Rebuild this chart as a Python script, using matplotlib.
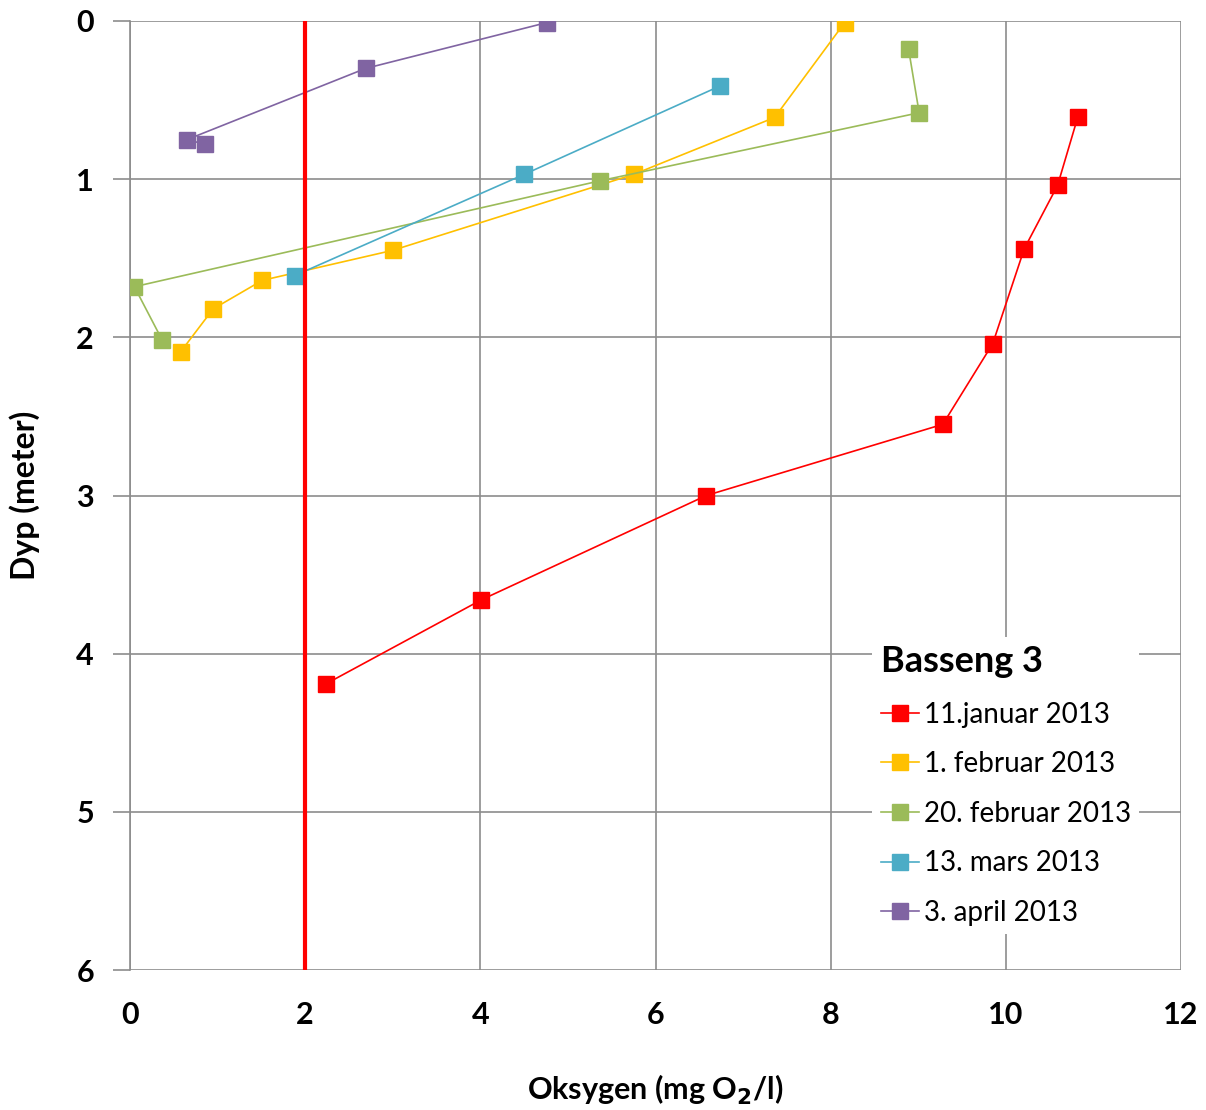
import matplotlib
matplotlib.use("Agg")
from matplotlib import pyplot as plt

plt.rcParams['font.family'] = ['Lato', 'DejaVu Sans']

# Oksygen (mg O2/l) og dyp (m) per måledato
jan11_oks = [10.82, 10.59, 10.21, 9.85, 9.28, 6.58, 4.01, 2.24]
jan11_dyp = [0.61, 1.04, 1.44, 2.04, 2.55, 3.00, 3.66, 4.19]

feb01_oks = [8.16, 7.36, 5.75, 3.00, 1.51, 0.95, 0.58]
feb01_dyp = [0.01, 0.61, 0.97, 1.45, 1.64, 1.82, 2.09]

feb20_oks = [8.89, 9.01, 5.37, 0.05, 0.37]
feb20_dyp = [0.18, 0.58, 1.01, 1.68, 2.02]

mar13_oks = [6.74, 4.50, 1.88]
mar13_dyp = [0.41, 0.97, 1.61]

apr03_oks = [4.76, 2.69, 0.65, 0.86]
apr03_dyp = [0.01, 0.30, 0.75, 0.78]

series = [
    ("11.januar 2013", jan11_oks, jan11_dyp, "#ff0000"),
    ("1. februar 2013", feb01_oks, feb01_dyp, "#ffc000"),
    ("20. februar 2013", feb20_oks, feb20_dyp, "#9bbb59"),
    ("13. mars 2013", mar13_oks, mar13_dyp, "#4bacc6"),
    ("3. april 2013", apr03_oks, apr03_dyp, "#8064a2"),
]

grense = 2  # kritisk oksygennivå

fig = plt.figure(figsize=(12.06, 11.10), dpi=100)
ax = fig.add_axes([0.1078, 0.1261, 0.8715, 0.855])

for label, x, y, c in series:
    ax.plot(x, y, color=c, lw=1.2, marker="s", markersize=12,
            markeredgecolor=c, label=label, zorder=3)

ax.axvline(grense, color="#ff0000", lw=3, zorder=4)

ax.set_xlim(0, 12)
ax.set_ylim(6, 0)
ax.set_xticks(range(0, 13, 2))
ax.set_yticks(range(0, 7))
ax.grid(True, color="#8c8c8c", lw=1.2, zorder=0)
ax.set_axisbelow(True)
for s in ["top", "right", "bottom"]:
    ax.spines[s].set_visible(False)
ax.spines["left"].set_color("#8c8c8c")
ax.spines["left"].set_linewidth(1.2)
ax.tick_params(axis="y", length=12, color="#8c8c8c", width=1.2, pad=14)
ax.tick_params(axis="x", length=0, pad=22)
for t in ax.get_xticklabels() + ax.get_yticklabels():
    t.set_fontsize(22)
    t.set_fontweight("bold")

ax.set_xlabel("Oksygen (mg O$_\\mathbf{2}$/l)", fontsize=22, fontweight="bold", labelpad=32)
ax.set_ylabel("Dyp (meter)", fontsize=23, fontweight="bold", labelpad=26)

leg = ax.legend(title="Basseng 3", loc="upper left", bbox_to_anchor=(0.693, 0.366),
                fontsize=20, frameon=True, framealpha=1, edgecolor="none",
                fancybox=False, handlelength=1.4, handletextpad=0.15,
                labelspacing=0.85, borderpad=0.3)
leg.get_title().set_fontsize(26)
leg.get_title().set_fontweight("bold")
leg._legend_box.align = "left"

fig.savefig("out.png", dpi=100)
